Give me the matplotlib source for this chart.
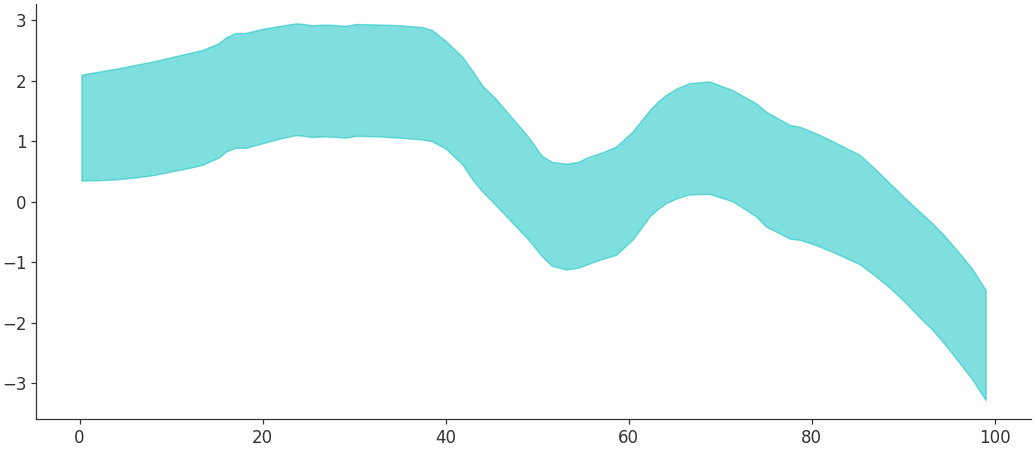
import numpy as np
import matplotlib.pyplot as plt

# band: x, upper edge, lower edge
x = [0.2, 2, 4, 6, 8, 10, 12, 13.4, 15.2, 16, 17, 18.1, 20.3, 22, 23.6, 24.5,
     25.4, 26.9, 29.1, 30.2, 32.7, 34.9, 37.4, 38.5, 40, 41.8, 43, 44, 45.5,
     47.3, 49, 50.5, 51.6, 53.2, 54.5, 55.4, 56.8, 58.6, 60.4, 61.3, 62.3,
     63.2, 64.1, 65.3, 66.6, 68.8, 71.3, 73.9, 75, 77.6, 78.7, 80.5, 82.3,
     85.2, 86.8, 88.5, 90.2, 91.9, 93.2, 94.5, 95.8, 97.5, 99]
upper = [2.10, 2.15, 2.20, 2.26, 2.32, 2.39, 2.46, 2.51, 2.62, 2.72, 2.79,
         2.79, 2.87, 2.91, 2.95, 2.94, 2.92, 2.93, 2.91, 2.94, 2.93, 2.92,
         2.89, 2.84, 2.66, 2.40, 2.15, 1.92, 1.70, 1.38, 1.08, 0.76, 0.66,
         0.63, 0.66, 0.73, 0.80, 0.91, 1.16, 1.33, 1.52, 1.66, 1.77, 1.88,
         1.96, 1.99, 1.85, 1.63, 1.49, 1.27, 1.24, 1.13, 1.00, 0.78, 0.56,
         0.31, 0.06, -0.18, -0.36, -0.56, -0.79, -1.10, -1.46]
lower = [0.35, 0.355, 0.37, 0.40, 0.44, 0.50, 0.56, 0.61, 0.73, 0.83, 0.89,
         0.89, 0.98, 1.05, 1.10, 1.09, 1.07, 1.08, 1.06, 1.09, 1.08, 1.06,
         1.03, 1.00, 0.88, 0.62, 0.35, 0.17, -0.06, -0.35, -0.62, -0.90,
         -1.06, -1.12, -1.09, -1.04, -0.96, -0.88, -0.63, -0.45, -0.24,
         -0.12, -0.02, 0.06, 0.12, 0.13, 0.01, -0.24, -0.41, -0.61, -0.63,
         -0.72, -0.83, -1.03, -1.21, -1.42, -1.66, -1.93, -2.12, -2.35,
         -2.60, -2.93, -3.28]

fig = plt.figure(figsize=(10.35, 4.5), dpi=100)
ax = fig.add_axes([0.035, 0.069, 0.961, 0.921])

ax.fill_between(x, lower, upper, color='c', alpha=0.5, linewidth=1)

ax.set_xticks([0, 20, 40, 60, 80, 100])
ax.set_yticks([-3, -2, -1, 0, 1, 2, 3])
ax.set_yticklabels(['\u22123', '\u22122', '\u22121', '0', '1', '2', '3'])
ax.tick_params(labelsize=12, colors='#333333', length=3.5, width=0.9)
for s in ['top', 'right']:
    ax.spines[s].set_visible(False)
for s in ['left', 'bottom']:
    ax.spines[s].set_color('#333333')
    ax.spines[s].set_linewidth(0.9)

fig.savefig('out.png', dpi=100)
